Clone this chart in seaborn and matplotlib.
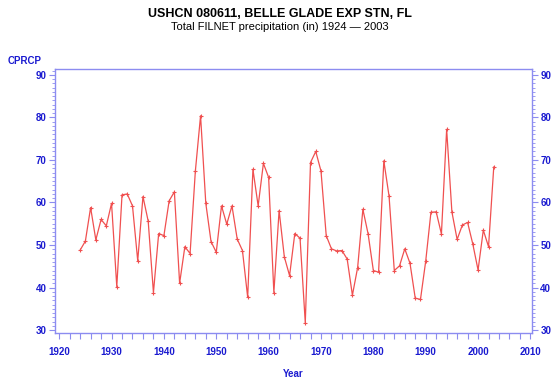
import matplotlib
matplotlib.use("Agg")
import matplotlib.pyplot as plt
import seaborn as sns
import pandas as pd
import numpy as np
from matplotlib.ticker import MultipleLocator

years = list(range(1924, 2004))
precip = [48.8, 50.9, 58.8, 51.2, 56.0, 54.5, 59.8, 40.2, 61.8, 62.0,
          59.2, 46.3, 61.4, 55.6, 38.8, 52.7, 52.2, 60.4, 62.5, 41.0,
          49.6, 48.0, 67.3, 80.4, 59.8, 50.8, 48.3, 59.2, 54.9, 59.2,
          51.4, 48.7, 37.7, 67.8, 59.2, 69.2, 65.9, 38.8, 58.1, 47.2,
          42.8, 52.7, 51.6, 31.7, 69.4, 72.0, 67.4, 52.2, 49.1, 48.6,
          48.7, 46.7, 38.2, 44.7, 58.4, 52.6, 44.0, 43.6, 69.8, 61.5,
          44.0, 45.1, 49.1, 45.7, 37.5, 37.2, 46.2, 57.7, 57.8, 52.6,
          77.2, 57.8, 51.3, 54.7, 55.3, 50.2, 44.1, 53.5, 49.6, 68.4]

x_ticks = [1920, 1930, 1940, 1950, 1960, 1970, 1980, 1990, 2000, 2010]
y_ticks = [30, 40, 50, 60, 70, 80, 90]

df = pd.DataFrame({"Year": years, "CPRCP": precip})

sns.set_theme(style="white")
plt.rcParams['font.family'] = ['Liberation Sans', 'DejaVu Sans']

axis_col = "#8c8cf0"
text_col = "#1a1ad0"
line_col = "#f05050"

fig = plt.figure(figsize=(5.6, 3.85), dpi=100)
ax = fig.add_axes([55/560, 1-333/385, (532-55)/560, (333-69)/385])

sns.lineplot(data=df, x="Year", y="CPRCP", ax=ax, color=line_col,
             linewidth=0.9, marker="+", markersize=3.5, markeredgewidth=0.8,
             markeredgecolor=line_col)

ax.set_xlim(1919.2, 2010.3)
ax.set_ylim(29.3, 91.4)
ax.set_xticks(x_ticks)
ax.set_yticks(y_ticks)
ax.xaxis.set_minor_locator(MultipleLocator(2))
ax.yaxis.set_minor_locator(MultipleLocator(1))

for s in ax.spines.values():
    s.set_color(axis_col)
    s.set_linewidth(1.0)

ax.tick_params(axis="both", which="both", direction="out", colors=axis_col,
               labelcolor=text_col, labelsize=7)
ax.tick_params(axis="y", which="both", left=True, right=True,
               labelleft=True, labelright=True)
ax.tick_params(axis="y", which="major", length=4, width=0.8, pad=2)
ax.tick_params(axis="y", which="minor", length=2, width=0.6)
ax.tick_params(axis="x", which="both", bottom=True, length=4, width=0.8, pad=6)
for lab in ax.get_xticklabels() + ax.get_yticklabels():
    lab.set_fontweight("bold")

ax.set_xlabel("Year", color=text_col, fontsize=7, fontweight="bold", labelpad=9)
ax.set_ylabel("")
ax.grid(False)

fig.text(25/560, 1-61/385, "CPRCP", color=text_col, fontsize=7,
         fontweight="bold", ha="center", va="center")
fig.text(0.5, 1-14/385, "USHCN 080611, BELLE GLADE EXP STN, FL", color="black",
         fontsize=9, fontweight="bold", ha="center", va="center")
fig.text(0.5, 1-27/385, "Total FILNET precipitation (in) 1924 \u2014 2003",
         color="black", fontsize=8, ha="center", va="center")

fig.savefig("out.png", dpi=100, facecolor="white")
